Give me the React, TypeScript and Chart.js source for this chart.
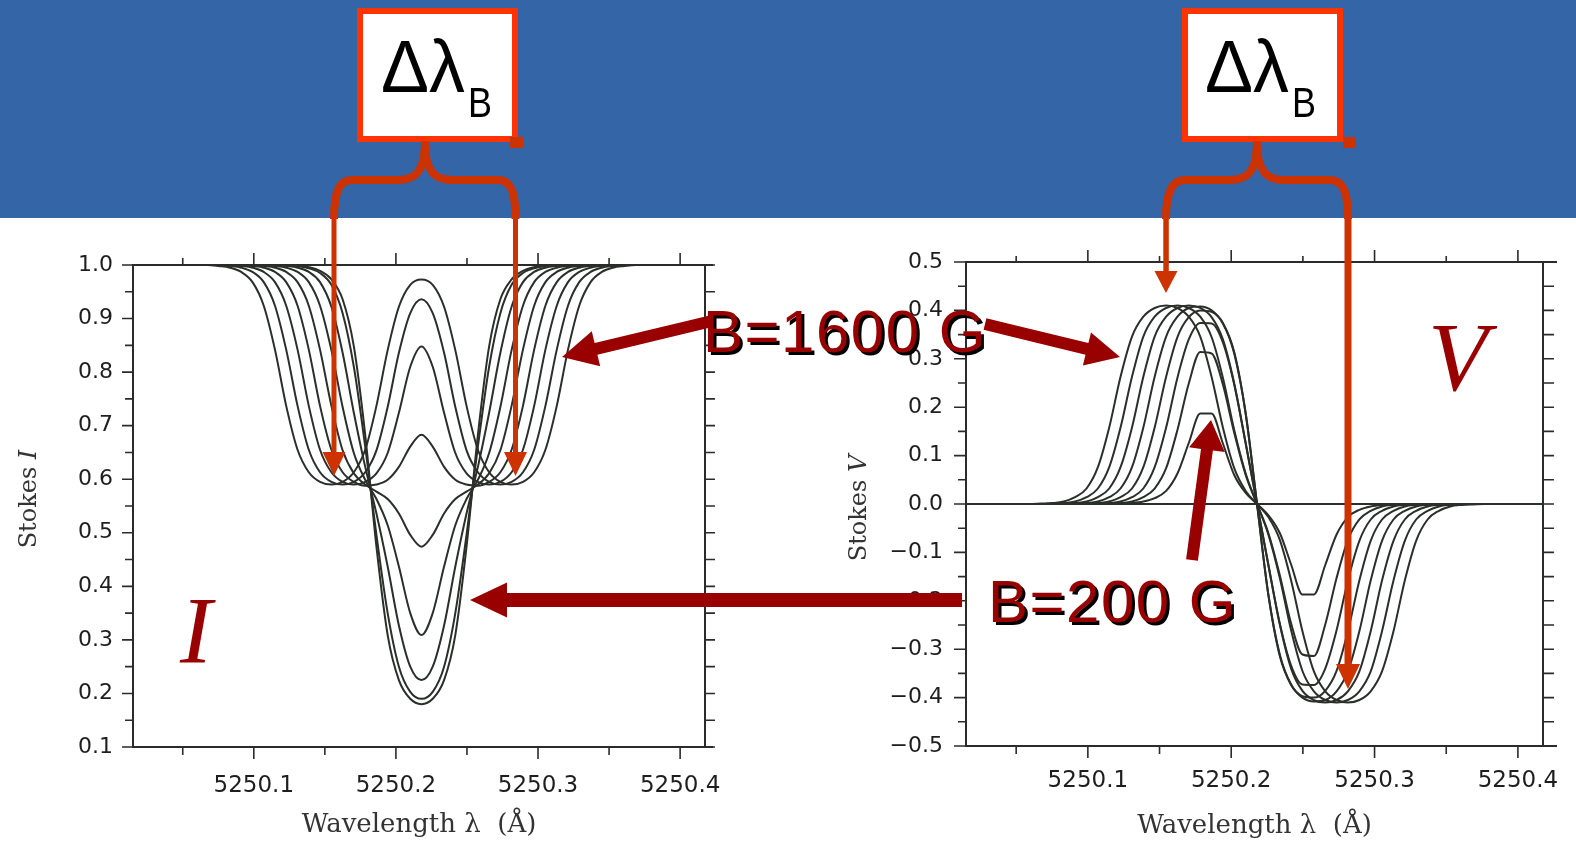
import React, { useEffect, useRef } from "react";
import { Chart, registerables } from "chart.js";
Chart.register(...registerables);

// ---------- data ----------
const WAVELENGTH = [5250.0118,
  5250.0594, 5250.0673, 5250.0753, 5250.0832, 5250.0911, 5250.0991, 5250.1070, 5250.1149, 5250.1228, 5250.1308,
  5250.1387, 5250.1466, 5250.1546, 5250.1625, 5250.1704, 5250.1784, 5250.1863, 5250.1942, 5250.2021, 5250.2101,
  5250.2180,
  5250.2259, 5250.2339, 5250.2418, 5250.2497, 5250.2577, 5250.2656, 5250.2735, 5250.2814, 5250.2894, 5250.2973,
  5250.3052, 5250.3132, 5250.3211, 5250.3290, 5250.3370, 5250.3449, 5250.3528, 5250.3607, 5250.3687, 5250.3766,
  5250.4242];

const FIELD_G = [0, 200, 400, 600, 800, 1000, 1200, 1400, 1600];

const I_B0 = [1,
  1, 1, 1, 1, 1, 1, 1, 1, 1, 0.999,
  0.996, 0.989, 0.973, 0.936, 0.848, 0.683, 0.474, 0.309, 0.225, 0.19,
  0.18,
  0.19, 0.225, 0.309, 0.474, 0.683, 0.848, 0.936, 0.973, 0.989, 0.996,
  0.999, 1, 1, 1, 1, 1, 1, 1, 1, 1,
  1];
const I_B200 = [1,
  1, 1, 1, 1, 1, 1, 1, 1, 1, 0.998,
  0.994, 0.985, 0.963, 0.91, 0.81, 0.661, 0.496, 0.35, 0.25, 0.203,
  0.19,
  0.203, 0.25, 0.35, 0.496, 0.661, 0.81, 0.91, 0.963, 0.985, 0.994,
  0.998, 1, 1, 1, 1, 1, 1, 1, 1, 1,
  1];
const I_B400 = [1,
  1, 1, 1, 1, 1, 1, 1, 1, 0.998, 0.995,
  0.987, 0.968, 0.922, 0.836, 0.724, 0.623, 0.536, 0.437, 0.327, 0.25,
  0.225,
  0.25, 0.327, 0.437, 0.536, 0.623, 0.724, 0.836, 0.922, 0.968, 0.987,
  0.995, 0.998, 1, 1, 1, 1, 1, 1, 1, 1,
  1];
const I_B600 = [1,
  1, 1, 1, 1, 1, 1, 1, 0.998, 0.995, 0.987,
  0.968, 0.924, 0.841, 0.735, 0.649, 0.599, 0.563, 0.514, 0.437, 0.35,
  0.309,
  0.35, 0.437, 0.514, 0.563, 0.599, 0.649, 0.735, 0.841, 0.924, 0.968,
  0.987, 0.995, 0.998, 1, 1, 1, 1, 1, 1, 1,
  1];
const I_B800 = [1,
  1, 1, 1, 1, 1, 1, 0.998, 0.995, 0.987, 0.968,
  0.924, 0.842, 0.737, 0.654, 0.611, 0.59, 0.577, 0.563, 0.536, 0.496,
  0.474,
  0.496, 0.536, 0.563, 0.577, 0.59, 0.611, 0.654, 0.737, 0.842, 0.924,
  0.968, 0.987, 0.995, 0.998, 1, 1, 1, 1, 1, 1,
  1];
const I_B1000 = [1,
  1, 1, 1, 1, 1, 0.998, 0.995, 0.987, 0.968, 0.924,
  0.842, 0.737, 0.655, 0.613, 0.595, 0.588, 0.59, 0.599, 0.623, 0.661,
  0.683,
  0.661, 0.623, 0.599, 0.59, 0.588, 0.595, 0.613, 0.655, 0.737, 0.842,
  0.924, 0.968, 0.987, 0.995, 0.998, 1, 1, 1, 1, 1,
  1];
const I_B1200 = [1,
  1, 1, 1, 1, 0.998, 0.995, 0.987, 0.968, 0.924, 0.842,
  0.737, 0.655, 0.613, 0.595, 0.59, 0.595, 0.611, 0.649, 0.724, 0.81,
  0.848,
  0.81, 0.724, 0.649, 0.611, 0.595, 0.59, 0.595, 0.613, 0.655, 0.737,
  0.842, 0.924, 0.968, 0.987, 0.995, 0.998, 1, 1, 1, 1,
  1];
const I_B1400 = [1,
  1, 1, 1, 0.998, 0.995, 0.987, 0.968, 0.924, 0.842, 0.737,
  0.655, 0.613, 0.595, 0.59, 0.595, 0.613, 0.654, 0.735, 0.836, 0.91,
  0.936,
  0.91, 0.836, 0.735, 0.654, 0.613, 0.595, 0.59, 0.595, 0.613, 0.655,
  0.737, 0.842, 0.924, 0.968, 0.987, 0.995, 0.998, 1, 1, 1,
  1];
const I_B1600 = [1,
  1, 1, 0.998, 0.995, 0.987, 0.968, 0.924, 0.842, 0.737, 0.655,
  0.613, 0.595, 0.59, 0.595, 0.613, 0.655, 0.737, 0.841, 0.922, 0.963,
  0.973,
  0.963, 0.922, 0.841, 0.737, 0.655, 0.613, 0.595, 0.59, 0.595, 0.613,
  0.655, 0.737, 0.842, 0.924, 0.968, 0.987, 0.995, 0.998, 1, 1,
  1];

const V_B0 = [0,
  0, 0, 0, 0, 0, 0, 0, 0, 0, 0,
  0, 0, 0, 0, 0, 0, 0, 0, 0, 0,
  0,
  0, 0, 0, 0, 0, 0, 0, 0, 0, 0,
  0, 0, 0, 0, 0, 0, 0, 0, 0, 0,
  0];
const V_B200 = [0,
  0, 0, 0, 0, 0, 0, 0, 0, 0.001, 0.002,
  0.005, 0.012, 0.027, 0.063, 0.126, 0.187, 0.187, 0.125, 0.06, 0.023,
  0,
  -0.023, -0.06, -0.125, -0.187, -0.187, -0.126, -0.063, -0.027, -0.012, -0.005,
  -0.002, -0.001, 0, 0, 0, 0, 0, 0, 0, 0,
  0];
const V_B400 = [0,
  0, 0, 0, 0, 0, 0, 0, 0.001, 0.002, 0.005,
  0.014, 0.032, 0.074, 0.153, 0.249, 0.314, 0.311, 0.247, 0.147, 0.06,
  0,
  -0.06, -0.147, -0.247, -0.311, -0.314, -0.249, -0.153, -0.074, -0.032, -0.014,
  -0.005, -0.002, -0.001, 0, 0, 0, 0, 0, 0, 0,
  0];
const V_B600 = [0,
  0, 0, 0, 0, 0, 0, 0.001, 0.002, 0.005, 0.014,
  0.032, 0.076, 0.158, 0.261, 0.34, 0.374, 0.373, 0.334, 0.247, 0.125,
  0,
  -0.125, -0.247, -0.334, -0.373, -0.374, -0.34, -0.261, -0.158, -0.076, -0.032,
  -0.014, -0.005, -0.002, -0.001, 0, 0, 0, 0, 0, 0,
  0];
const V_B800 = [0,
  0, 0, 0, 0, 0, 0.001, 0.002, 0.005, 0.014, 0.032,
  0.076, 0.158, 0.263, 0.345, 0.386, 0.4, 0.397, 0.373, 0.311, 0.187,
  0,
  -0.187, -0.311, -0.373, -0.397, -0.4, -0.386, -0.345, -0.263, -0.158, -0.076,
  -0.032, -0.014, -0.005, -0.002, -0.001, 0, 0, 0, 0, 0,
  0];
const V_B1000 = [0,
  0, 0, 0, 0, 0.001, 0.002, 0.005, 0.014, 0.032, 0.076,
  0.158, 0.263, 0.346, 0.387, 0.405, 0.408, 0.4, 0.374, 0.314, 0.187,
  0,
  -0.187, -0.314, -0.374, -0.4, -0.408, -0.405, -0.387, -0.346, -0.263, -0.158,
  -0.076, -0.032, -0.014, -0.005, -0.002, -0.001, 0, 0, 0, 0,
  0];
const V_B1200 = [0,
  0, 0, 0, 0.001, 0.002, 0.005, 0.014, 0.032, 0.076, 0.158,
  0.263, 0.346, 0.387, 0.405, 0.41, 0.405, 0.386, 0.34, 0.249, 0.126,
  0,
  -0.126, -0.249, -0.34, -0.386, -0.405, -0.41, -0.405, -0.387, -0.346, -0.263,
  -0.158, -0.076, -0.032, -0.014, -0.005, -0.002, -0.001, 0, 0, 0,
  0];
const V_B1400 = [0,
  0, 0, 0.001, 0.002, 0.005, 0.014, 0.032, 0.076, 0.158, 0.263,
  0.346, 0.387, 0.405, 0.41, 0.405, 0.387, 0.345, 0.261, 0.153, 0.063,
  0,
  -0.063, -0.153, -0.261, -0.345, -0.387, -0.405, -0.41, -0.405, -0.387, -0.346,
  -0.263, -0.158, -0.076, -0.032, -0.014, -0.005, -0.002, -0.001, 0, 0,
  0];
const V_B1600 = [0,
  0, 0.001, 0.002, 0.005, 0.014, 0.032, 0.076, 0.158, 0.263, 0.346,
  0.387, 0.405, 0.41, 0.405, 0.387, 0.346, 0.263, 0.158, 0.074, 0.027,
  0,
  -0.027, -0.074, -0.158, -0.263, -0.346, -0.387, -0.405, -0.41, -0.405, -0.387,
  -0.346, -0.263, -0.158, -0.076, -0.032, -0.014, -0.005, -0.002, -0.001, 0,
  0];

const I_SERIES = [I_B0, I_B200, I_B400, I_B600, I_B800, I_B1000, I_B1200, I_B1400, I_B1600];
const V_SERIES = [V_B0, V_B200, V_B400, V_B600, V_B800, V_B1000, V_B1200, V_B1400, V_B1600];

const X_MIN = 5250.015;
const X_MAX = 5250.4175;
const X_TICKS = [5250.05, 5250.1, 5250.15, 5250.2, 5250.25, 5250.3, 5250.35, 5250.4];
const I_TICKS = [0.1, 0.15, 0.2, 0.25, 0.3, 0.35, 0.4, 0.45, 0.5, 0.55, 0.6, 0.65, 0.7, 0.75, 0.8, 0.85, 0.9, 0.95, 1.0];
const V_TICKS = [-0.5, -0.45, -0.4, -0.35, -0.3, -0.25, -0.2, -0.15, -0.1, -0.05, 0, 0.05, 0.1, 0.15, 0.2, 0.25, 0.3, 0.35, 0.4, 0.45, 0.5];

// ---------- styles ----------
const INK = "#2a2c2a";
const CURVE = "#2b2f2b";
const LABEL = "#1e1e1e";
const BLUE = "#3465a6";
const ORANGE = "#cc3300";
const BOX_RED = "#ff3300";
const DARK_RED = "#990000";

const isMajor = (v: number) => Math.abs(v * 10 - Math.round(v * 10)) < 1e-6;

function makeFrame(cfg: any) {
  return {
    id: "frameTicks",
    afterDatasetsDraw(chart: any) {
      const { ctx, chartArea: a } = chart;
      const xs = chart.scales.x;
      const ys = chart.scales.y;
      ctx.save();
      ctx.strokeStyle = INK;
      ctx.lineWidth = 1.6;
      ctx.beginPath();
      for (const v of X_TICKS) {
        const px = xs.getPixelForValue(v);
        const m = isMajor(v);
        ctx.moveTo(px, a.bottom);
        ctx.lineTo(px, a.bottom + (m ? cfg.xMajor : cfg.xMinor));
        ctx.moveTo(px, a.top);
        ctx.lineTo(px, a.top - (m ? cfg.topMajor : cfg.topMinor));
      }
      for (const v of cfg.yTicks) {
        const py = ys.getPixelForValue(v);
        const m = isMajor(v);
        ctx.moveTo(a.left - (m ? cfg.yMajor : cfg.yMinor), py);
        ctx.lineTo(a.left, py);
        ctx.moveTo(a.right, py);
        ctx.lineTo(a.right + cfg.rightLen, py);
      }
      ctx.stroke();
      ctx.lineWidth = 2;
      ctx.strokeRect(a.left, a.top, a.right - a.left, a.bottom - a.top);
      ctx.beginPath();
      ctx.moveTo(a.right, a.top);
      ctx.lineTo(a.right + cfg.ext, a.top);
      ctx.moveTo(a.right, a.bottom);
      ctx.lineTo(a.right + cfg.ext, a.bottom);
      ctx.stroke();
      ctx.restore();
    },
  };
}

function buildConfig(p: any) {
  return {
    type: "line",
    data: {
      datasets: p.series.map((s: number[], k: number) => ({
        label: "B=" + FIELD_G[k] + " G",
        data: WAVELENGTH.map((x, i) => ({ x, y: s[i] })),
        borderColor: CURVE,
        borderWidth: 2,
        pointRadius: 0,
        fill: false,
        cubicInterpolationMode: "monotone",
      })),
    },
    options: {
      responsive: false,
      animation: false,
      events: [],
      layout: { padding: p.pad },
      plugins: { legend: { display: false }, tooltip: { enabled: false } },
      scales: {
        x: {
          type: "linear",
          min: X_MIN,
          max: X_MAX,
          afterBuildTicks: (s: any) => {
            s.ticks = X_TICKS.map((v) => ({ value: v }));
          },
          afterFit: (s: any) => {
            s.height = p.xHeight;
            s.paddingLeft = 0;
            s.paddingRight = 0;
          },
          grid: { display: false, drawTicks: false },
          border: { display: false },
          ticks: {
            autoSkip: false,
            maxRotation: 0,
            padding: p.xLabelPad,
            color: LABEL,
            font: { family: "DejaVu Sans", size: 23 },
            callback: (v: number) => (isMajor(v) ? v.toFixed(1) : ""),
          },
          title: {
            display: true,
            text: "Wavelength λ  (Å)",
            color: "#333",
            font: { family: "DejaVu Serif", size: 26 },
            padding: { top: 0, bottom: p.titlePad },
          },
        },
        y: {
          type: "linear",
          min: p.yMin,
          max: p.yMax,
          afterBuildTicks: (s: any) => {
            s.ticks = p.yTicks.map((v: number) => ({ value: v }));
          },
          afterFit: (s: any) => {
            s.width = p.yWidth;
            s.paddingTop = 0;
            s.paddingBottom = 0;
          },
          grid: { display: false, drawTicks: false },
          border: { display: false },
          ticks: {
            autoSkip: false,
            padding: p.yLabelPad,
            color: LABEL,
            font: { family: "DejaVu Sans", size: 22 },
            callback: (v: number) =>
              isMajor(v) ? (v < -1e-9 ? "\u2212" + Math.abs(v).toFixed(1) : Math.abs(v).toFixed(1)) : "",
          },
        },
      },
    },
    plugins: [makeFrame(p.frame)],
  };
}

function ChartCanvas({ make, left, top, width, height }: any) {
  const ref = useRef<HTMLCanvasElement | null>(null);
  useEffect(() => {
    const chart = new Chart(ref.current as HTMLCanvasElement, make() as any);
    return () => chart.destroy();
  }, []);
  return (
    <canvas
      ref={ref}
      width={width}
      height={height}
      style={{ position: "absolute", left, top, width, height }}
    />
  );
}

function arrowPts(x1: number, y1: number, x2: number, y2: number, w: number, hl: number, hw: number) {
  const dx = x2 - x1, dy = y2 - y1;
  const L = Math.hypot(dx, dy);
  const ux = dx / L, uy = dy / L;
  const nx = -uy, ny = ux;
  const bx = x2 - ux * hl, by = y2 - uy * hl;
  const pts = [
    [x1 + (nx * w) / 2, y1 + (ny * w) / 2],
    [bx + (nx * w) / 2, by + (ny * w) / 2],
    [bx + (nx * hw) / 2, by + (ny * hw) / 2],
    [x2, y2],
    [bx - (nx * hw) / 2, by - (ny * hw) / 2],
    [bx - (nx * w) / 2, by - (ny * w) / 2],
    [x1 - (nx * w) / 2, y1 - (ny * w) / 2],
  ];
  return pts.map((q) => q[0].toFixed(1) + "," + q[1].toFixed(1)).join(" ");
}

function RedLabel({ x, y, text }: any) {
  const common = {
    fontFamily: "Liberation Sans, Arial, sans-serif",
    fontSize: 60,
    letterSpacing: 1.5,
  } as any;
  return (
    <g>
      <text x={x + 3} y={y + 3} fill="#000" {...common}>{text}</text>
      <text x={x} y={y} fill={DARK_RED} {...common}>{text}</text>
    </g>
  );
}

function Overlay() {
  return (
    <svg
      width={1576}
      height={845}
      style={{ position: "absolute", left: 0, top: 0, pointerEvents: "none" }}
    >
      {/* y-axis titles */}
      <text transform="translate(28 499) rotate(-90)" textAnchor="middle" dominantBaseline="central"
        fontFamily="DejaVu Serif" fontSize={24} fill="#333">
        Stokes <tspan fontStyle="italic">I</tspan>
      </text>
      <text transform="translate(858 508) rotate(-90)" textAnchor="middle" dominantBaseline="central"
        fontFamily="DejaVu Serif" fontSize={24} fill="#333">
        Stokes <tspan fontStyle="italic">V</tspan>
      </text>

      {/* boxes */}
      <rect x={360} y={11} width={155} height={128} fill="#fff" stroke={BOX_RED} strokeWidth={6} />
      <rect x={510} y={137} width={13} height={11} fill={ORANGE} />
      <text x={381} y={92} fontSize={74} textLength={84} lengthAdjust="spacingAndGlyphs"
        fontFamily="Liberation Sans, Arial, sans-serif" fill="#000">Δλ</text>
      <text x={468} y={117} fontSize={42} textLength={24} lengthAdjust="spacingAndGlyphs"
        fontFamily="Liberation Sans, Arial, sans-serif" fill="#000">B</text>

      <rect x={1185} y={11} width={155} height={128} fill="#fff" stroke={BOX_RED} strokeWidth={6} />
      <rect x={1343} y={137} width={13} height={11} fill={ORANGE} />
      <text x={1205} y={92} fontSize={74} textLength={84} lengthAdjust="spacingAndGlyphs"
        fontFamily="Liberation Sans, Arial, sans-serif" fill="#000">Δλ</text>
      <text x={1292} y={117} fontSize={42} textLength={24} lengthAdjust="spacingAndGlyphs"
        fontFamily="Liberation Sans, Arial, sans-serif" fill="#000">B</text>

      {/* braces */}
      <g fill="none" stroke={ORANGE} strokeWidth={8}>
        <path d="M425,141 C425,168 418,180 398,180 L352,180 C340,180 334,190 334,219" />
        <path d="M425,141 C425,168 432,180 452,180 L498,180 C510,180 515.5,190 515.5,219" />
        <path d="M1257,141 C1257,168 1250,180 1230,180 L1185,180 C1173,180 1166,190 1166,219" />
        <path d="M1257,141 C1257,168 1264,180 1284,180 L1330,180 C1342,180 1348,190 1348,219" />
      </g>
      {/* orange arrows */}
      <g fill={ORANGE}>
        <polygon points={arrowPts(334, 218, 334, 476, 5, 24, 23)} />
        <polygon points={arrowPts(515.5, 218, 515.5, 476, 5, 24, 23)} />
        <polygon points={arrowPts(1166, 218, 1166, 293, 5.5, 22, 23)} />
        <polygon points={arrowPts(1348, 218, 1348, 689, 7, 25, 24)} />
      </g>

      {/* dark red arrows */}
      <g fill={DARK_RED}>
        <polygon points={arrowPts(712, 321, 562, 357, 12, 35, 36)} />
        <polygon points={arrowPts(985, 324, 1120, 357, 12, 34, 34)} />
        <polygon points={arrowPts(1192, 560, 1211, 420, 12, 30, 36)} />
        <polygon points={arrowPts(962, 600, 470, 600, 14, 37, 35)} />
      </g>

      <RedLabel x={703} y={352} text="B=1600 G" />
      <RedLabel x={988} y={622} text="B=200 G" />

      <text x={180} y={663} fontFamily="Liberation Serif, Times New Roman, serif" fontStyle="italic"
        fontSize={96} fill={DARK_RED}>I</text>
      <text x={1428} y={390} fontFamily="Liberation Serif, Times New Roman, serif" fontStyle="italic"
        fontSize={98} fill={DARK_RED}>V</text>
    </svg>
  );
}

export default function App() {
  const makeI = () =>
    buildConfig({
      series: I_SERIES,
      yMin: 0.1,
      yMax: 1.0,
      yTicks: I_TICKS,
      yWidth: 133,
      xHeight: 98,
      pad: { left: 0, top: 35, right: 25, bottom: 0 },
      xLabelPad: 25,
      yLabelPad: 20,
      titlePad: 4,
      frame: { yTicks: I_TICKS, xMajor: 12, xMinor: 8, topMajor: 12, topMinor: 7, yMajor: 11, yMinor: 8, rightLen: 10, ext: 8 },
    });
  const makeV = () =>
    buildConfig({
      series: V_SERIES,
      yMin: -0.5,
      yMax: 0.5,
      yTicks: V_TICKS,
      yWidth: 136,
      xHeight: 99,
      pad: { left: 0, top: 32, right: 33, bottom: 0 },
      xLabelPad: 21,
      yLabelPad: 23,
      titlePad: 3,
      frame: { yTicks: V_TICKS, xMajor: 12, xMinor: 8, topMajor: 12, topMinor: 6, yMajor: 12, yMinor: 8, rightLen: 11, ext: 14 },
    });
  return (
    <div
      style={{
        position: "fixed",
        left: 0,
        top: 0,
        width: 1576,
        height: 845,
        background: "#fff",
        overflow: "hidden",
      }}
    >
      <div style={{ position: "absolute", left: 0, top: 0, width: 1576, height: 218, background: BLUE }} />
      <ChartCanvas make={makeI} left={0} top={230} width={730} height={615} />
      <ChartCanvas make={makeV} left={830} top={230} width={746} height={615} />
      <Overlay />
    </div>
  );
}
